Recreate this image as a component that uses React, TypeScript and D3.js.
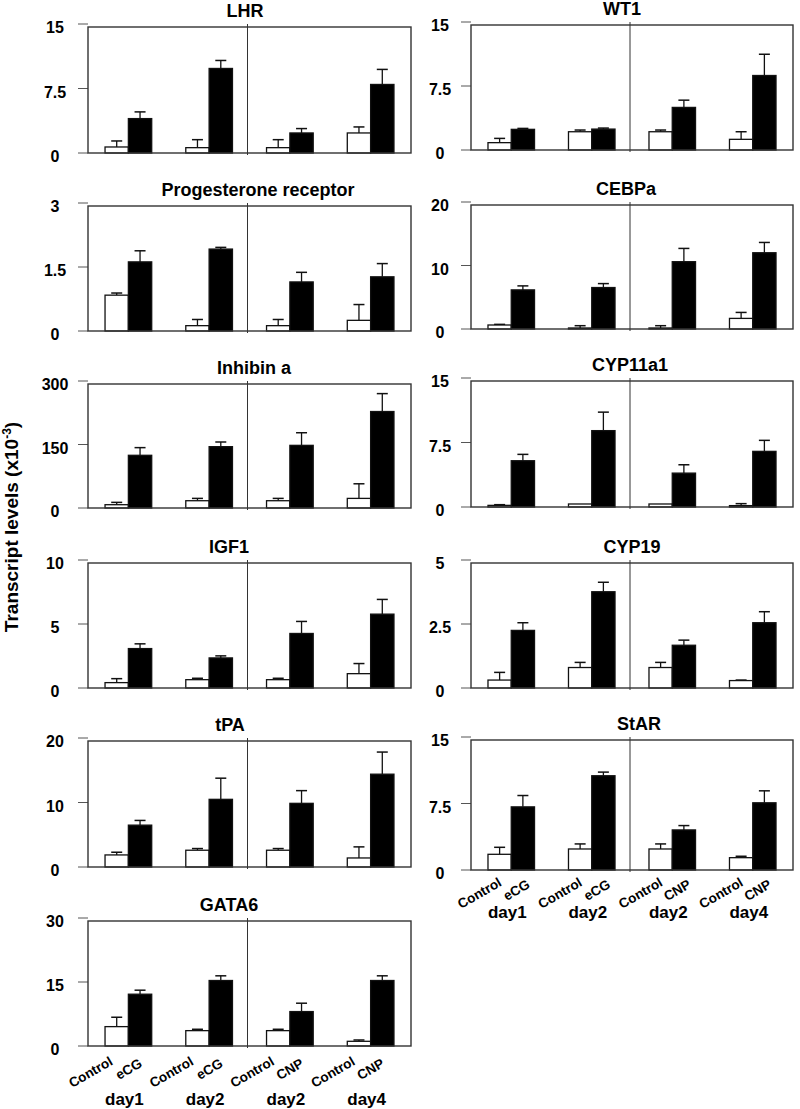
import React from "react";
import * as d3 from "d3";

// groups along the x axis (day + treatment)
const groups = ["d1eCG", "d2eCG", "d2CNP", "d4CNP"];
const groupDays = ["day1", "day2", "day2", "day4"];
const groupTreat = ["eCG", "eCG", "CNP", "CNP"];
const series = ["ctrl", "trt"];

// per gene: control mean / SE, treated mean / SE  (x10^-3)
const lhrCtrl = [0.7, 0.62, 0.62, 2.33];
const lhrCtrlErr = [0.7, 0.93, 0.93, 0.7];
const lhrTrt = [4.0, 9.83, 2.33, 7.97];
const lhrTrtErr = [0.78, 0.93, 0.51, 1.75];

const wt1Ctrl = [0.86, 2.14, 2.14, 1.25];
const wt1CtrlErr = [0.5, 0.2, 0.2, 0.89];
const wt1Trt = [2.42, 2.45, 4.99, 8.73];
const wt1TrtErr = [0.11, 0.12, 0.85, 2.49];

const prCtrl = [0.84, 0.125, 0.125, 0.25];
const prCtrlErr = [0.05, 0.145, 0.145, 0.37];
const prTrt = [1.62, 1.92, 1.15, 1.27];
const prTrtErr = [0.26, 0.04, 0.225, 0.31];

const cebpCtrl = [0.63, 0.16, 0.16, 1.67];
const cebpCtrlErr = [0.1, 0.36, 0.36, 0.94];
const cebpTrt = [6.16, 6.53, 10.6, 12.01];
const cebpTrtErr = [0.63, 0.62, 2.09, 1.62];

const inhCtrl = [7.8, 17.2, 17.2, 22.7];
const inhCtrlErr = [5.5, 5.5, 5.5, 34.5];
const inhTrt = [124.5, 144.9, 148, 227.9];
const inhTrtErr = [18.1, 11, 29.8, 42.3];

const cyp11Ctrl = [0.19, 0.35, 0.35, 0.16];
const cyp11CtrlErr = [0.08, 0, 0, 0.23];
const cyp11Trt = [5.38, 8.88, 3.94, 6.47];
const cyp11TrtErr = [0.74, 2.15, 0.97, 1.28];

const igfCtrl = [0.42, 0.65, 0.65, 1.12];
const igfCtrlErr = [0.31, 0.11, 0.11, 0.79];
const igfTrt = [3.08, 2.35, 4.26, 5.77];
const igfTrtErr = [0.37, 0.16, 0.94, 1.15];

const cyp19Ctrl = [0.31, 0.8, 0.8, 0.29];
const cyp19CtrlErr = [0.3, 0.2, 0.2, 0.02];
const cyp19Trt = [2.25, 3.76, 1.67, 2.55];
const cyp19TrtErr = [0.3, 0.37, 0.2, 0.43];

const tpaCtrl = [1.87, 2.6, 2.6, 1.4];
const tpaCtrlErr = [0.42, 0.26, 0.26, 1.72];
const tpaTrt = [6.49, 10.49, 9.87, 14.39];
const tpaTrtErr = [0.73, 3.28, 1.97, 3.43];

const starCtrl = [1.77, 2.37, 2.37, 1.39];
const starCtrlErr = [0.79, 0.57, 0.57, 0.16];
const starTrt = [7.12, 10.63, 4.52, 7.58];
const starTrtErr = [1.28, 0.41, 0.49, 1.35];

const gataCtrl = [4.54, 3.6, 3.6, 1.1];
const gataCtrlErr = [2.2, 0.32, 0.32, 0.31];
const gataTrt = [12.14, 15.35, 8.07, 15.35];
const gataTrtErr = [0.94, 1.1, 1.96, 1.1];

// y tick values per panel
const lhrTicks = [0, 7.5, 15];
const wt1Ticks = [0, 7.5, 15];
const prTicks = [0, 1.5, 3];
const cebpTicks = [0, 10, 20];
const inhTicks = [0, 150, 300];
const cyp11Ticks = [0, 7.5, 15];
const igfTicks = [0, 5, 10];
const cyp19Ticks = [0, 2.5, 5];
const tpaTicks = [0, 10, 20];
const starTicks = [0, 7.5, 15];
const gataTicks = [0, 15, 30];

const genes = [
  { name: "LHR", ctrl: lhrCtrl, ctrlErr: lhrCtrlErr, trt: lhrTrt, trtErr: lhrTrtErr, ticks: lhrTicks },
  { name: "WT1", ctrl: wt1Ctrl, ctrlErr: wt1CtrlErr, trt: wt1Trt, trtErr: wt1TrtErr, ticks: wt1Ticks },
  { name: "Progesterone receptor", ctrl: prCtrl, ctrlErr: prCtrlErr, trt: prTrt, trtErr: prTrtErr, ticks: prTicks },
  { name: "CEBPa", ctrl: cebpCtrl, ctrlErr: cebpCtrlErr, trt: cebpTrt, trtErr: cebpTrtErr, ticks: cebpTicks },
  { name: "Inhibin a", ctrl: inhCtrl, ctrlErr: inhCtrlErr, trt: inhTrt, trtErr: inhTrtErr, ticks: inhTicks },
  { name: "CYP11a1", ctrl: cyp11Ctrl, ctrlErr: cyp11CtrlErr, trt: cyp11Trt, trtErr: cyp11TrtErr, ticks: cyp11Ticks },
  { name: "IGF1", ctrl: igfCtrl, ctrlErr: igfCtrlErr, trt: igfTrt, trtErr: igfTrtErr, ticks: igfTicks },
  { name: "CYP19", ctrl: cyp19Ctrl, ctrlErr: cyp19CtrlErr, trt: cyp19Trt, trtErr: cyp19TrtErr, ticks: cyp19Ticks },
  { name: "tPA", ctrl: tpaCtrl, ctrlErr: tpaCtrlErr, trt: tpaTrt, trtErr: tpaTrtErr, ticks: tpaTicks },
  { name: "StAR", ctrl: starCtrl, ctrlErr: starCtrlErr, trt: starTrt, trtErr: starTrtErr, ticks: starTicks },
  { name: "GATA6", ctrl: gataCtrl, ctrlErr: gataCtrlErr, trt: gataTrt, trtErr: gataTrtErr, ticks: gataTicks },
];

// panel placement (pixels)
const COLS = [
  { left: 88, right: 411, labelX: 55 },
  { left: 471, right: 793, labelX: 440 },
];
const layout = {
  "LHR": { col: 0, top: 24, base: 153, titleX: 245 },
  "Progesterone receptor": { col: 0, top: 203, base: 331, titleX: 258 },
  "Inhibin a": { col: 0, top: 381, base: 508, titleX: 254 },
  "IGF1": { col: 0, top: 560, base: 688, titleX: 229 },
  "tPA": { col: 0, top: 738, base: 867, titleX: 230 },
  "GATA6": {
    col: 0, top: 918, base: 1046, titleX: 229,
    xlab: { ctrlDx: -3, ctrlDy: 18, trtDx: 3, trtDy: 20, dayDy: 59 },
  },
  "WT1": { col: 1, top: 22, base: 150, titleX: 622 },
  "CEBPa": { col: 1, top: 202, base: 329, titleX: 626 },
  "CYP11a1": { col: 1, top: 378, base: 507, titleX: 630 },
  "CYP19": { col: 1, top: 560, base: 688, titleX: 632 },
  "StAR": {
    col: 1, top: 737, base: 870, titleX: 639,
    xlab: { ctrlDx: 3, ctrlDy: 15, trtDx: 8, trtDy: 17, dayDy: 48 },
  },
};

const FONT = "'Liberation Sans', Arial, Helvetica, sans-serif";
const LABEL_ANGLE = -30;

function Panel({ g }) {
  const lay = layout[g.name];
  const col = COLS[lay.col];
  const maxV = g.ticks[g.ticks.length - 1];
  const y = d3.scaleLinear().domain([0, maxV]).range([lay.base, lay.top]);
  const x0 = d3.scaleBand().domain(groups).range([col.left, col.right]);
  const x1 = d3.scaleBand().domain(series).range([0, x0.bandwidth()]).paddingOuter(0.73);
  const divX = (x0("d2CNP") as number) - 2;
  const capW = 11;

  const bars = groups.flatMap((gr, i) =>
    series.map((s) => ({
      gr,
      s,
      i,
      v: s === "ctrl" ? g.ctrl[i] : g.trt[i],
      e: s === "ctrl" ? g.ctrlErr[i] : g.trtErr[i],
    }))
  );

  return (
    <g>
      <text x={lay.titleX} y={lay.top - 7} textAnchor="middle" fontFamily={FONT} fontWeight="bold" fontSize={18}>
        {g.name}
      </text>
      {g.ticks.map((t) => (
        <g key={t}>
          <line x1={col.left - 10} x2={col.left} y1={y(t)} y2={y(t)} stroke="#555" strokeWidth={1} />
          <text x={col.labelX} y={y(t) + 9} textAnchor="middle" fontFamily={FONT} fontWeight="bold" fontSize={16}>
            {t}
          </text>
        </g>
      ))}
      {bars.map((b) => {
        const bx = (x0(b.gr) as number) + (x1(b.s) as number);
        const cx = bx + x1.bandwidth() / 2;
        const yTop = y(b.v);
        const yErr = y(b.v + b.e);
        return (
          <g key={b.gr + b.s}>
            {b.e > 0 && (
              <>
                <line x1={cx} x2={cx} y1={yTop} y2={yErr} stroke="#111" strokeWidth={1.3} />
                <line x1={cx - capW / 2} x2={cx + capW / 2} y1={yErr} y2={yErr} stroke="#111" strokeWidth={1.5} />
              </>
            )}
            <rect
              x={bx}
              y={yTop}
              width={x1.bandwidth()}
              height={lay.base - yTop}
              fill={b.s === "ctrl" ? "#fff" : "#000"}
              stroke="#111"
              strokeWidth={1.3}
            />
          </g>
        );
      })}
      <rect
        x={col.left}
        y={lay.top + 3}
        width={col.right - col.left}
        height={lay.base - lay.top - 3}
        fill="none"
        stroke="#333"
        strokeWidth={1.4}
      />
      <line x1={divX} x2={divX} y1={lay.top} y2={lay.base + 2} stroke="#333" strokeWidth={1} />
      {lay.xlab &&
        groups.map((gr, i) => {
          const cC = (x0(gr) as number) + (x1("ctrl") as number) + x1.bandwidth() / 2;
          const cT = (x0(gr) as number) + (x1("trt") as number) + x1.bandwidth() / 2;
          const gc = (x0(gr) as number) + x0.bandwidth() / 2;
          const xl = lay.xlab;
          return (
            <g key={gr} fontFamily={FONT} fontWeight="bold">
              <text
                x={cC + xl.ctrlDx}
                y={lay.base + xl.ctrlDy}
                transform={`rotate(${LABEL_ANGLE},${cC + xl.ctrlDx},${lay.base + xl.ctrlDy})`}
                textAnchor="end"
                fontSize={13.5}
              >
                Control
              </text>
              <text
                x={cT + xl.trtDx}
                y={lay.base + xl.trtDy}
                transform={`rotate(${LABEL_ANGLE},${cT + xl.trtDx},${lay.base + xl.trtDy})`}
                textAnchor="end"
                fontSize={13.5}
              >
                {groupTreat[i]}
              </text>
              <text x={gc - 4} y={lay.base + xl.dayDy} textAnchor="middle" fontSize={17}>
                {groupDays[i]}
              </text>
            </g>
          );
        })}
    </g>
  );
}

export default function App() {
  return (
    <svg
      width={800}
      height={1109}
      viewBox="0 0 800 1109"
      style={{ position: "absolute", left: 0, top: 0, background: "#fff" }}
    >
      <rect width={800} height={1109} fill="#fff" />
      {genes.map((g) => (
        <Panel key={g.name} g={g} />
      ))}
      <text
        transform="translate(18,527) rotate(-90)"
        textAnchor="middle"
        fontFamily={FONT}
        fontWeight="bold"
        fontSize={19}
      >
        Transcript levels (x10
        <tspan dy={-7} fontSize={12}>-3</tspan>
        <tspan dy={7}>)</tspan>
      </text>
    </svg>
  );
}
